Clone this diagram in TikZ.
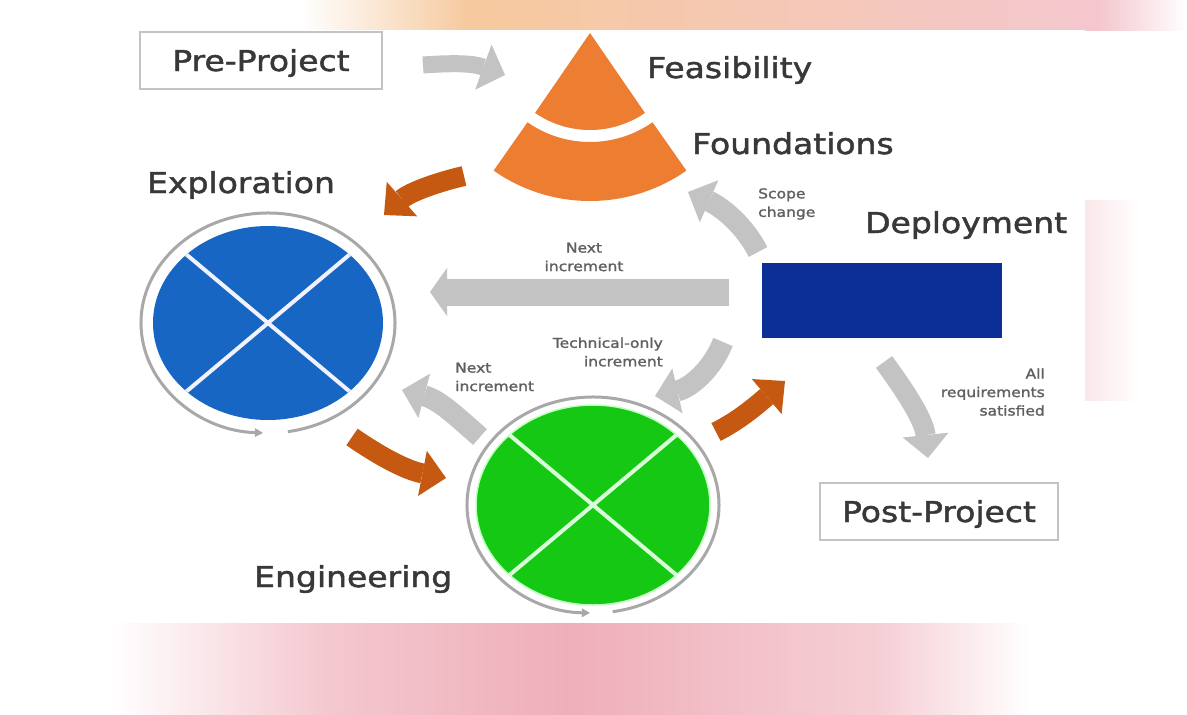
\documentclass[tikz,border=0pt]{standalone}
\usepackage{fontspec}
\setmainfont{DejaVu Sans}[FakeStretch=1.15, FakeBold=1.6]
\usetikzlibrary{arrows.meta}
\definecolor{conecol}{HTML}{ED7D31}
\definecolor{darrow}{HTML}{C65911}
\definecolor{garrow}{HTML}{C3C3C3}
\definecolor{ringgray}{HTML}{A8A8A8}
\definecolor{explblue}{HTML}{1766C4}
\definecolor{enggreen}{HTML}{14C814}
\definecolor{depblue}{HTML}{0B2E97}
\definecolor{txtgray}{HTML}{383838}
\definecolor{peach}{HTML}{F6C99E}
\definecolor{wcpink}{HTML}{EFAFBA}
\begin{document}
\begin{tikzpicture}[x=1pt, y=-1pt,
    phase/.style={font=\fontsize{28.7}{34}\selectfont, text=txtgray, inner sep=0pt},
    note/.style={font=\fontsize{13.5}{18.5}\selectfont, text=txtgray!80, inner sep=0pt},
    framebox/.style={phase, draw=garrow, line width=2pt, minimum width=242pt,
      minimum height=57pt, text height=21pt, text depth=0pt},
    grayarrow/.style={draw=garrow, line width=21pt, -{Triangle[width=46pt,length=23pt,line width=0pt]}},
    orangearrow/.style={draw=darrow, line width=20pt, -{Triangle[width=46pt,length=24pt,line width=0pt]}},
    ring/.style={draw=ringgray, line width=3pt, -{Triangle[width=9pt,length=8pt,line width=0pt]}}]
  \useasboundingbox (0,0) rectangle (1187,715);
  \fill[white] (0,0) rectangle (1187,715);
  \shade[left color=white, right color=peach] (300,0) rectangle (470,30);
  \shade[left color=peach, right color=wcpink!70] (470,0) rectangle (1100,30);
  \shade[left color=wcpink!70, right color=white] (1100,0) rectangle (1187,30);
  \shade[left color=white, right color=wcpink!70] (110,623) rectangle (330,715);
  \shade[left color=wcpink!70, right color=wcpink] (330,623) rectangle (570,715);
  \shade[left color=wcpink, right color=wcpink!60] (570,623) rectangle (880,715);
  \shade[left color=wcpink!60, right color=white] (880,623) rectangle (1030,715);
  \shade[left color=wcpink!30, right color=white] (1085,200) rectangle (1140,400);
  \fill[white] (140,30) rectangle (1085,623);

  % feasibility / foundations cone
  \coordinate (apex) at (590,33);
  \fill[conecol] (apex) -- ([shift={(55.5:97)}]apex)
    arc[start angle=55.5, end angle=124.5, radius=97] -- cycle;
  \fill[conecol] ([shift={(55:109)}]apex) arc[start angle=55, end angle=125, radius=109]
    -- ([shift={(125:168)}]apex) arc[start angle=125, end angle=55, radius=168] -- cycle;

  % exploration
  \coordinate (xc) at (268,323);
  \fill[explblue] (xc) ellipse[x radius=115, y radius=97];
  \begin{scope}
    \clip (xc) ellipse[x radius=115, y radius=97];
    \draw[blue!5, line width=4pt] ([shift={(40:170)}]xc) -- ([shift={(220:170)}]xc);
    \draw[blue!5, line width=4pt] ([shift={(140:170)}]xc) -- ([shift={(-40:170)}]xc);
  \end{scope}
  \draw[ring] ([shift={(81:127 and 110)}]xc) arc[start angle=81, end angle=-267.7, x radius=127, y radius=110];

  % engineering
  \coordinate (gc) at (593,505);
  \fill[enggreen] (gc) ellipse[x radius=117, y radius=100];
  \draw[green!25, line width=1.5pt] (gc) ellipse[x radius=117, y radius=100];
  \begin{scope}
    \clip (gc) ellipse[x radius=117, y radius=100];
    \draw[green!15, line width=4pt] ([shift={(40:170)}]gc) -- ([shift={(220:170)}]gc);
    \draw[green!15, line width=4pt] ([shift={(140:170)}]gc) -- ([shift={(-40:170)}]gc);
  \end{scope}
  \draw[ring] ([shift={(81:126 and 108)}]gc) arc[start angle=81, end angle=-268.6, x radius=126, y radius=108];

  % deployment
  \node[fill=depblue, minimum width=240pt, minimum height=75pt, inner sep=0pt] (deprect) at (882,300.5) {};

  \node[framebox] (pre) at (261,60.5) {Pre-Project};
  \node[framebox, minimum width=238pt] (post) at (939,511.5) {Post-Project};
  \node[phase, anchor=base west] (feas) at (647,78) {Feasibility};
  \node[phase, anchor=base west] (found) at (692,154) {Foundations};
  \node[phase, anchor=base west] (expl) at (147,193) {Exploration};
  \node[phase, anchor=base west] (depl) at (865,233) {Deployment};
  \node[phase, anchor=base west] (engi) at (254,587) {Engineering};

  \node[note, align=center] (nexta) at (584,257) {Next\\increment};
  \node[note, align=left, anchor=west] (scope) at (758,204) {Scope\\change};
  \node[note, align=right, anchor=east] (tech) at (663,352) {Technical-only\\increment};
  \node[note, align=left, anchor=west] (nextb) at (455,377) {Next\\increment};
  \node[note, align=right, anchor=east] (allreq) at (1045,392) {All\\requirements\\satisfied};

  % connectors
  \coordinate (preout) at (423,65);   \coordinate (conein) at (505,75);
  \coordinate (coneout) at (464,176); \coordinate (explin) at (384,215);
  \coordinate (explout) at (352,437); \coordinate (engin) at (446,478);
  \coordinate (engout) at (716,432);  \coordinate (depin) at (785,381);
  \coordinate (depnext) at (729,292); \coordinate (explnext) at (430,292);
  \coordinate (depscope) at (758,252); \coordinate (conescope) at (688,192);
  \coordinate (deptech) at (723,342); \coordinate (engtech) at (655,396);
  \coordinate (engnext) at (480,437); \coordinate (explback) at (402,390);
  \coordinate (depdone) at (884,362); \coordinate (postin) at (928,458);

  \draw[grayarrow, line width=17pt, -{Triangle[width=48pt,length=23pt,line width=0pt]}]
    (preout) .. controls (452,63) and (472,63) .. (conein);
  \draw[orangearrow] (coneout) .. controls (438,182) and (410,192) .. (explin);
  \draw[orangearrow] (explout) .. controls (378,455) and (405,470) .. (engin);
  \draw[orangearrow] (engout) .. controls (740,420) and (758,404) .. (depin);
  \draw[grayarrow, line width=27pt, -{Triangle[width=48pt,length=17pt,line width=0pt]}] (depnext) -- (explnext);
  \draw[grayarrow] (depscope) .. controls (745,226) and (722,207) .. (conescope);
  \draw[grayarrow] (deptech) .. controls (712,370) and (690,388) .. (engtech);
  \draw[grayarrow] (engnext) .. controls (458,418) and (440,400) .. (explback);
  \draw[grayarrow, line width=20pt] (depdone) .. controls (906,392) and (924,420) .. (postin);
\end{tikzpicture}
\end{document}
